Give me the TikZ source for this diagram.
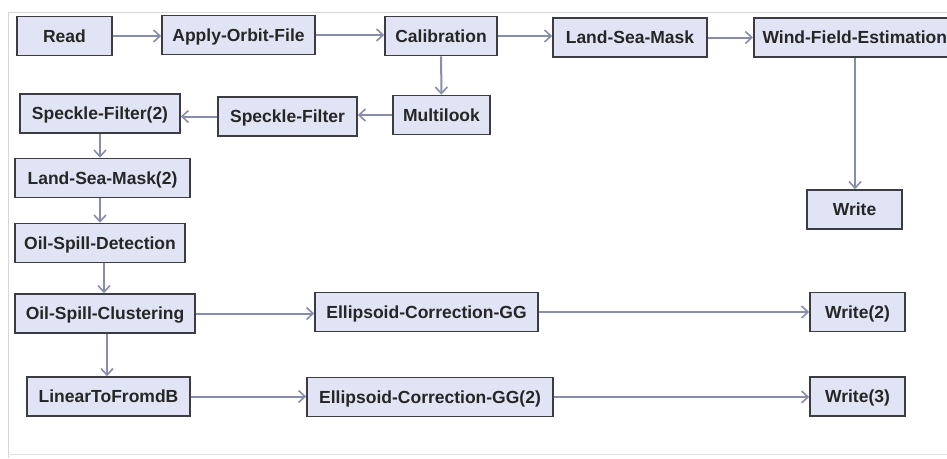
\documentclass[tikz,border=0pt]{standalone}
\usepackage{fontspec}
\setmainfont{Liberation Sans}
\usetikzlibrary{arrows.meta}
\definecolor{boxfill}{RGB}{224,228,244}
\definecolor{boxline}{RGB}{60,60,66}
\definecolor{arrowc}{RGB}{135,142,172}
\definecolor{framec}{RGB}{215,215,218}
\begin{document}
\begin{tikzpicture}[x=1pt,y=-1pt,
  opbox/.style={draw=boxline, line width=1.6pt, fill=boxfill, inner sep=0pt,
    minimum height=39pt, text height=12.5pt, text depth=0pt,
    font=\fontsize{17.5}{20}\selectfont\bfseries, text=black!85},
  flow/.style={draw=arrowc, line width=2pt, -{Straight Barb[length=6.5pt,width=12pt,line width=1.6pt]}}]
\useasboundingbox (0,0) rectangle (947,458);
\clip (0,0) rectangle (947,458);
\fill[white] (0,0) rectangle (947,458);
\draw[framec, line width=1pt] (8,458) -- (8,12) -- (947,12);
\draw[framec!70, line width=1pt] (8,454) -- (947,454);

\node[opbox, minimum width=95pt]  (read) at (64.5,36) {Read};
\node[opbox, minimum width=153pt] (aof)  at (238.5,35) {Apply-Orbit-File};
\node[opbox, minimum width=112pt] (cal)  at (441,36) {Calibration};
\node[opbox, minimum width=154pt] (lsm)  at (630,37.5) {Land-Sea-Mask};
\node[opbox, minimum width=200pt, anchor=west, align=left] (wfe) at (753,37.5) {\hspace*{6pt}Wind-Field-Estimation\hspace*{4pt}};
\node[opbox, minimum width=95pt]  (wr1)  at (854.5,209.5) {Write};
\node[opbox, minimum width=97pt]  (ml)   at (441.5,115) {Multilook};
\node[opbox, minimum width=139pt] (sf)   at (287.5,116.5) {Speckle-Filter};
\node[opbox, minimum width=160pt] (sf2)  at (100,113.5) {Speckle-Filter(2)};
\node[opbox, minimum width=175pt] (lsm2) at (102.5,178) {Land-Sea-Mask(2)};
\node[opbox, minimum width=170pt] (osd)  at (100,243) {Oil-Spill-Detection};
\node[opbox, minimum width=180pt] (osc)  at (105,313.5) {Oil-Spill-Clustering};
\node[opbox, minimum width=223pt] (ec1)  at (426.5,312) {Ellipsoid-Correction-GG};
\node[opbox, minimum width=95pt]  (wr2)  at (857.5,312) {Write(2)};
\node[opbox, minimum width=163pt] (ltf)  at (108.5,396.5) {LinearToFromdB};
\node[opbox, minimum width=246pt] (ec2)  at (430,397) {Ellipsoid-Correction-GG(2)};
\node[opbox, minimum width=95pt]  (wr3)  at (857.5,396.5) {Write(3)};

\draw[flow] (read) -- (aof.west |- read);
\draw[flow] (aof) -- (cal.west |- aof);
\draw[flow] (cal) -- (lsm.west |- cal);
\draw[flow] (lsm) -- (wfe.west |- lsm);
\draw[flow] (cal) -- (ml);
\draw[flow] (ml) -- (sf.east |- ml);
\draw[flow] (sf) -- (sf2.east |- sf);
\draw[flow] (sf2) -- (lsm2.north -| sf2);
\draw[flow] (lsm2.south -| sf2) -- (osd.north -| sf2);
\draw[flow] ([xshift=4pt]osd.south) -- ([xshift=4pt]osd.south |- osc.north);
\draw[flow] ([xshift=2pt]osc.south) -- ([xshift=2pt]osc.south |- ltf.north);
\draw[flow] (osc) -- (ec1.west |- osc);
\draw[flow] (ltf) -- (ec2.west |- ltf);
\draw[flow] (ec1) -- (wr2.west |- ec1);
\draw[flow] (ec2) -- (wr3.west |- ec2);
\coordinate (wfex) at (855,57);
\draw[flow] (wfe.south -| wfex) -- (wr1.north -| wfex);
\end{tikzpicture}
\end{document}
